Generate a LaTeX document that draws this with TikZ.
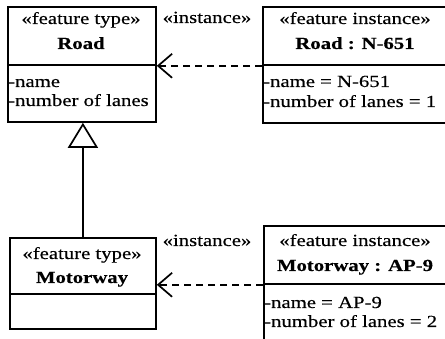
\documentclass[tikz,border=0pt]{standalone}
\usepackage{fontspec}
\setmainfont{Liberation Serif}[FakeStretch=1.22, FakeBold=0.3]
\usetikzlibrary{arrows.meta}

\tikzset{
  compartment/.style={draw, line width=1.8pt, rectangle, inner sep=0pt, anchor=north west},
  txt/.style={font=\fontsize{17}{19}\selectfont, inner sep=0pt, anchor=base},
  attr/.style={txt, anchor=base west},
  realize/.style={line width=1.7pt, dash pattern=on 7pt off 5pt,
    -{Straight Barb[length=14pt,width=24pt,line width=1.7pt]}},
  generalize/.style={line width=1.7pt,
    -{Triangle[open,length=25pt,width=30pt,line width=1.7pt,fill=white]}},
}

\begin{document}
\begin{tikzpicture}[x=1pt,y=-1pt]
  \useasboundingbox (0,0) rectangle (445,339);
  \clip (0,0) rectangle (445,339);
  \fill[white] (0,0) rectangle (445,339);

  % feature type: Road
  \node[compartment, minimum width=148, minimum height=58] (roadHead) at (7,6) {};
  \node[compartment, minimum width=148, minimum height=57] (roadAttr) at (7,64) {};
  \node[txt] (roadStereo) at (81,24) {«feature type»};
  \node[txt] (roadName) at (81,49) {\textbf{Road}};
  \node[attr] (roadA1) at (8,87) {-name};
  \node[attr] (roadA2) at (8,106) {-number of lanes};

  % feature instance: Road : N-651
  \node[compartment, minimum width=186, minimum height=58] (rinstHead) at (262,6) {};
  \node[compartment, minimum width=186, minimum height=58] (rinstAttr) at (262,64) {};
  \node[txt] (rinstStereo) at (355,24) {«feature instance»};
  \node[txt] (rinstName) at (355,49) {\textbf{Road : N-651}};
  \node[attr] (rinstA1) at (263,87) {-name = N-651};
  \node[attr] (rinstA2) at (263,107) {-number of lanes = 1};

  % feature type: Motorway
  \node[compartment, minimum width=146, minimum height=56] (mwHead) at (9,237) {};
  \node[compartment, minimum width=146, minimum height=35] (mwAttr) at (9,293) {};
  \node[txt] (mwStereo) at (82,259) {«feature type»};
  \node[txt] (mwName) at (82,283) {\textbf{Motorway}};

  % feature instance: Motorway : AP-9
  \node[compartment, minimum width=186, minimum height=58] (minstHead) at (263,225) {};
  \node[compartment, minimum width=186, minimum height=70] (minstAttr) at (263,283) {};
  \node[txt] (minstStereo) at (355,246) {«feature instance»};
  \node[txt] (minstName) at (355,271) {\textbf{Motorway : AP-9}};
  \node[attr] (minstA1) at (264,308) {-name = AP-9};
  \node[attr] (minstA2) at (264,327) {-number of lanes = 2};

  % relations
  \draw[generalize] (mwHead.north) -- (mwHead.north |- roadAttr.south);
  \draw[realize] (rinstHead.south west) -- (roadHead.south east);
  \draw[realize] (minstHead.south west) -- (mwHead.east |- minstHead.south west);
  \node[txt] (instLabel1) at (207,23) {«instance»};
  \node[txt] (instLabel2) at (207,246) {«instance»};
\end{tikzpicture}
\end{document}
